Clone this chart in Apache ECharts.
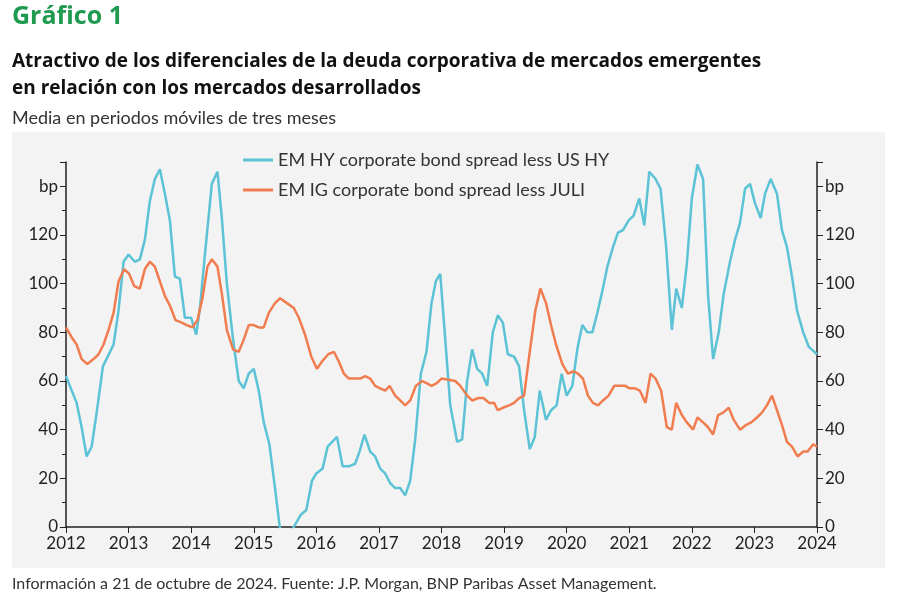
<!DOCTYPE html>
<html>
<head>
<meta charset="utf-8">
<script src="https://cdn.jsdelivr.net/npm/echarts@6/dist/echarts.min.js"></script>
<style>
  body { margin: 0; background: #fff; }
  #chart { width: 900px; height: 612px; }
</style>
</head>
<body>
<div id="chart"></div>
<script>
// EM HY corporate bond spread less US HY (year, bp)
var hyYears = [2012.0, 2012.17, 2012.25, 2012.33, 2012.41, 2012.49, 2012.59, 2012.76, 2012.84, 2012.92, 2013.0, 2013.1, 2013.18, 2013.26, 2013.34, 2013.42, 2013.5, 2013.58, 2013.66, 2013.74, 2013.82, 2013.9, 2014.0, 2014.08, 2014.14, 2014.22, 2014.33, 2014.42, 2014.49, 2014.57, 2014.67, 2014.76, 2014.84, 2014.92, 2015.0, 2015.08, 2015.16, 2015.25, 2015.34, 2015.42, 2015.52, 2015.64, 2015.75, 2015.84, 2015.93, 2016.0, 2016.1, 2016.18, 2016.33, 2016.42, 2016.53, 2016.62, 2016.69, 2016.77, 2016.86, 2016.94, 2017.02, 2017.1, 2017.18, 2017.26, 2017.34, 2017.42, 2017.5, 2017.58, 2017.67, 2017.76, 2017.84, 2017.91, 2017.98, 2018.06, 2018.14, 2018.25, 2018.33, 2018.41, 2018.49, 2018.57, 2018.65, 2018.73, 2018.82, 2018.9, 2018.98, 2019.06, 2019.16, 2019.24, 2019.32, 2019.41, 2019.49, 2019.57, 2019.67, 2019.75, 2019.84, 2019.92, 2020.0, 2020.09, 2020.17, 2020.25, 2020.33, 2020.41, 2020.49, 2020.57, 2020.65, 2020.74, 2020.82, 2020.9, 2020.99, 2021.07, 2021.16, 2021.24, 2021.32, 2021.42, 2021.5, 2021.59, 2021.68, 2021.75, 2021.84, 2021.92, 2022.0, 2022.09, 2022.18, 2022.26, 2022.34, 2022.43, 2022.51, 2022.61, 2022.69, 2022.77, 2022.85, 2022.93, 2023.01, 2023.1, 2023.17, 2023.26, 2023.36, 2023.44, 2023.52, 2023.6, 2023.68, 2023.78, 2023.87, 2024.0];
var hyValues = [62, 51, 41, 29, 33, 47, 66, 75, 89, 109, 112, 109, 110, 118, 134, 143, 147, 137, 126, 103, 102, 86, 86, 79, 90, 112, 141, 146, 127, 100, 77, 60, 57, 63, 65, 56, 43, 34, 16, -1, -5, 0, 5, 7, 19, 22, 24, 33, 37, 25, 25, 26, 31, 38, 31, 29, 24, 22, 18, 16, 16, 13, 19, 36, 63, 72, 92, 101, 104, 77, 50, 35, 36, 60, 73, 65, 63, 58, 80, 87, 84, 71, 70, 66, 48, 32, 37, 56, 44, 48, 50, 63, 54, 58, 73, 83, 80, 80, 88, 97, 107, 115, 121, 122, 126, 128, 135, 124, 146, 143, 139, 115, 81, 98, 90, 108, 135, 149, 143, 95, 69, 80, 96, 109, 118, 125, 139, 141, 133, 127, 137, 143, 137, 122, 115, 103, 89, 80, 74, 71];

// EM IG corporate bond spread less JULI (year, bp)
var igYears = [2012.0, 2012.09, 2012.17, 2012.25, 2012.34, 2012.44, 2012.52, 2012.6, 2012.68, 2012.76, 2012.84, 2012.93, 2013.01, 2013.09, 2013.18, 2013.26, 2013.34, 2013.42, 2013.5, 2013.58, 2013.66, 2013.75, 2013.85, 2013.93, 2014.02, 2014.1, 2014.18, 2014.26, 2014.33, 2014.42, 2014.49, 2014.57, 2014.67, 2014.76, 2014.84, 2014.92, 2015.0, 2015.08, 2015.16, 2015.24, 2015.34, 2015.42, 2015.53, 2015.64, 2015.72, 2015.82, 2015.92, 2016.01, 2016.09, 2016.19, 2016.28, 2016.36, 2016.44, 2016.52, 2016.62, 2016.7, 2016.78, 2016.86, 2016.94, 2017.02, 2017.1, 2017.17, 2017.26, 2017.34, 2017.42, 2017.5, 2017.59, 2017.69, 2017.77, 2017.84, 2017.92, 2018.0, 2018.22, 2018.3, 2018.41, 2018.49, 2018.59, 2018.67, 2018.76, 2018.84, 2018.9, 2018.98, 2019.08, 2019.16, 2019.24, 2019.32, 2019.4, 2019.5, 2019.58, 2019.67, 2019.75, 2019.83, 2019.93, 2020.02, 2020.11, 2020.18, 2020.26, 2020.34, 2020.42, 2020.5, 2020.58, 2020.67, 2020.76, 2020.84, 2020.94, 2021.0, 2021.09, 2021.17, 2021.26, 2021.34, 2021.42, 2021.51, 2021.6, 2021.68, 2021.75, 2021.84, 2021.92, 2022.02, 2022.09, 2022.18, 2022.26, 2022.34, 2022.42, 2022.5, 2022.59, 2022.67, 2022.77, 2022.87, 2022.95, 2023.04, 2023.12, 2023.2, 2023.28, 2023.36, 2023.44, 2023.52, 2023.6, 2023.69, 2023.78, 2023.85, 2023.94, 2024.0];
var igValues = [82, 78, 75, 69, 67, 69, 71, 75, 81, 88, 101, 106, 104, 99, 98, 106, 109, 107, 101, 95, 91, 85, 84, 83, 82, 85, 94, 107, 110, 107, 96, 81, 73, 72, 77, 83, 83, 82, 82, 88, 92, 94, 92, 90, 86, 79, 70, 65, 68, 71, 72, 68, 63, 61, 61, 61, 62, 61, 58, 57, 56, 58, 54, 52, 50, 52, 58, 60, 59, 58, 59, 61, 60, 58, 54, 52, 53, 53, 51, 51, 48, 49, 50, 51, 53, 54, 70, 89, 98, 92, 83, 75, 67, 63, 64, 63, 61, 54, 51, 50, 52, 54, 58, 58, 58, 57, 57, 56, 51, 63, 61, 56, 41, 40, 51, 46, 43, 40, 45, 43, 41, 38, 46, 47, 49, 44, 40, 42, 43, 45, 47, 50, 54, 48, 42, 35, 33, 29, 31, 31, 34, 33];

var hyData = hyYears.map(function(y, i) { return [y, hyValues[i]]; });
var igData = igYears.map(function(y, i) { return [y, igValues[i]]; });

var font = 'Lato';
var yAxisBase = {
    type: 'value',
    min: 0,
    max: 150,
    interval: 20,
    splitLine: { show: false },
    axisLine: { show: true, lineStyle: { color: '#222', width: 1.5 } },
    axisTick: { show: true, length: 6, lineStyle: { color: '#222' } },
    minorTick: { show: true, splitNumber: 2, length: 4, lineStyle: { color: '#222' } },
    axisLabel: {
        color: '#222', fontSize: 17, fontFamily: font,
        formatter: function(v) { return v === 140 ? 'bp' : (v > 140 ? '' : v); }
    }
};

var chart = echarts.init(document.getElementById('chart'));
chart.setOption({
    animation: false,
    textStyle: { fontFamily: font },
    graphic: [
        { type: 'rect', left: 12, top: 132, shape: { width: 873, height: 436 }, style: { fill: '#f3f3f3' }, z: -10 },
        { type: 'text', left: 12, top: 4, style: { text: 'Gráfico 1', fill: '#1f9a50', font: 'bold 25px "Open Sans"' } },
        { type: 'text', left: 12, top: 48, style: { text: 'Atractivo de los diferenciales de la deuda corporativa de mercados emergentes\nen relación con los mercados desarrollados', fill: '#111', font: 'bold 19px "Open Sans"', lineHeight: 27 } },
        { type: 'text', left: 12, top: 109, style: { text: 'Media en periodos móviles de tres meses', fill: '#333', font: '18px Lato' } },
        { type: 'text', left: 12, top: 576, style: { text: 'Información a 21 de octubre de 2024. Fuente: J.P. Morgan, BNP Paribas Asset Management.', fill: '#333', font: '16px Lato' } }
    ],
    legend: {
        orient: 'vertical',
        left: 238,
        top: 146,
        itemGap: 12,
        itemWidth: 30,
        itemHeight: 3,
        icon: 'rect',
        textStyle: { fontSize: 18, color: '#333', fontFamily: font },
        data: ['EM HY corporate bond spread less US HY', 'EM IG corporate bond spread less JULI']
    },
    grid: { left: 66, right: 83, top: 162, bottom: 85 },
    xAxis: {
        type: 'value',
        min: 2012,
        max: 2024,
        interval: 1,
        splitLine: { show: false },
        axisLine: { lineStyle: { color: '#222', width: 1.5 } },
        axisTick: { show: true, length: 6, lineStyle: { color: '#222' } },
        axisLabel: { color: '#222', fontSize: 17, fontFamily: font, formatter: function(v) { return String(v); } }
    },
    yAxis: [
        echarts.util.merge({ position: 'left' }, yAxisBase, true),
        echarts.util.merge({ position: 'right' }, yAxisBase, true)
    ],
    series: [
        {
            name: 'EM HY corporate bond spread less US HY',
            type: 'line',
            data: hyData,
            showSymbol: false,
            clip: true,
            color: '#5cc2d6',
            lineStyle: { width: 2.5, color: '#5cc2d6' }
        },
        {
            name: 'EM IG corporate bond spread less JULI',
            type: 'line',
            data: igData,
            showSymbol: false,
            clip: true,
            color: '#f07c4f',
            lineStyle: { width: 2.5, color: '#f07c4f' }
        }
    ]
});
</script>
</body>
</html>
